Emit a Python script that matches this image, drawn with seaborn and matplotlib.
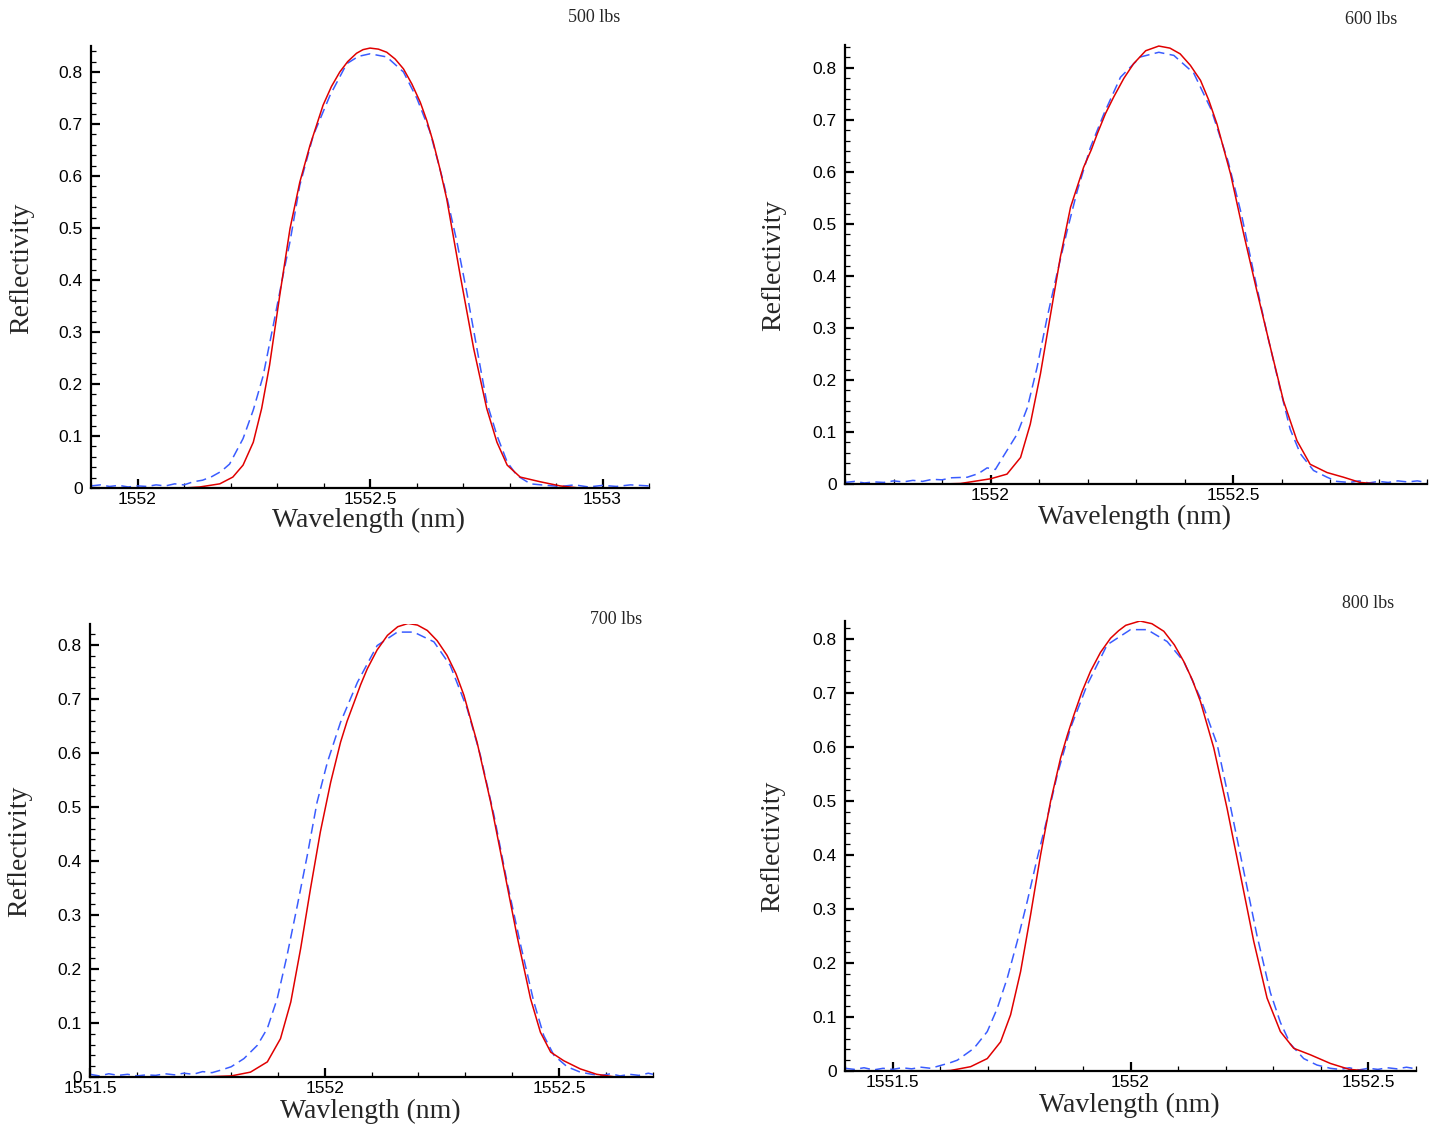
import matplotlib
matplotlib.use("Agg")
import matplotlib.pyplot as plt
from matplotlib.ticker import MultipleLocator, FuncFormatter
import numpy as np
import pandas as pd
import seaborn as sns

# ---------------- data ----------------
loads = ["500 lbs", "600 lbs", "700 lbs", "800 lbs"]
xlabels = ["Wavelength (nm)", "Wavelength (nm)", "Wavlength (nm)", "Wavlength (nm)"]

# 500 lbs
red1_wl = [1551.90, 1552.10, 1552.134, 1552.177, 1552.205, 1552.227, 1552.249, 1552.267, 1552.284,
           1552.306, 1552.328, 1552.349, 1552.371, 1552.399, 1552.417, 1552.435, 1552.452, 1552.471,
           1552.485, 1552.5, 1552.518, 1552.536, 1552.554, 1552.572, 1552.59, 1552.608, 1552.622,
           1552.636, 1552.65, 1552.665, 1552.694, 1552.723, 1552.751, 1552.773,
           1552.795, 1552.823, 1552.866, 1552.909, 1552.95, 1553.10]
red1_R = [0.0, 0.0, 0.002, 0.008, 0.021, 0.044, 0.088, 0.153, 0.236,
          0.371, 0.499, 0.588, 0.659, 0.736, 0.772, 0.800, 0.820, 0.836,
          0.843, 0.846, 0.844, 0.838, 0.825, 0.806, 0.777, 0.742, 0.707,
          0.665, 0.615, 0.556, 0.409, 0.268, 0.153, 0.088,
          0.044, 0.021, 0.012, 0.004, 0.0, 0.0]
blue1_wl = [1551.90, 1551.92, 1551.94, 1551.96, 1551.98, 1552.00, 1552.02, 1552.04, 1552.06, 1552.08,
            1552.10, 1552.12, 1552.14, 1552.16, 1552.18, 1552.198, 1552.227, 1552.249, 1552.27,
            1552.292, 1552.313, 1552.328, 1552.349, 1552.378, 1552.414, 1552.45, 1552.475, 1552.5,
            1552.536, 1552.572, 1552.601, 1552.629, 1552.658, 1552.687, 1552.708, 1552.73, 1552.751,
            1552.773, 1552.795, 1552.816, 1552.845, 1552.88, 1552.91, 1552.94, 1552.97, 1553.00,
            1553.03, 1553.06, 1553.10]
blue1_R = [0.004, 0.006, 0.003, 0.005, 0.002, 0.004, 0.003, 0.006, 0.004, 0.008,
           0.006, 0.012, 0.015, 0.022, 0.032, 0.046, 0.095, 0.150, 0.215,
           0.313, 0.409, 0.474, 0.582, 0.678, 0.755, 0.816, 0.830, 0.835,
           0.829, 0.800, 0.749, 0.685, 0.588, 0.473, 0.377, 0.268, 0.165,
           0.101, 0.050, 0.024, 0.008, 0.005, 0.003, 0.006, 0.002, 0.005,
           0.003, 0.006, 0.004]

# 600 lbs
red2_wl = [1551.70, 1551.90, 1551.938, 1552.0, 1552.034, 1552.062, 1552.082, 1552.103, 1552.124,
           1552.144, 1552.165, 1552.192, 1552.208, 1552.22, 1552.237, 1552.254, 1552.275, 1552.295,
           1552.32, 1552.347, 1552.37, 1552.391, 1552.412, 1552.433, 1552.45, 1552.467, 1552.495,
           1552.522, 1552.549, 1552.577, 1552.604, 1552.632, 1552.659,
           1552.694, 1552.728, 1552.762, 1552.80, 1552.90]
red2_R = [0.0, 0.0, 0.001, 0.010, 0.019, 0.051, 0.115, 0.212, 0.327,
          0.436, 0.532, 0.609, 0.643, 0.673, 0.712, 0.744, 0.780, 0.808,
          0.833, 0.842, 0.838, 0.827, 0.805, 0.776, 0.738, 0.692, 0.596,
          0.481, 0.372, 0.263, 0.160, 0.083, 0.038,
          0.022, 0.013, 0.003, 0.0, 0.0]
blue2_wl = [1551.70, 1551.72, 1551.74, 1551.76, 1551.78, 1551.80, 1551.82, 1551.84, 1551.86, 1551.88,
            1551.90, 1551.92, 1551.952, 1551.975, 1551.993, 1552.01, 1552.027, 1552.055, 1552.076,
            1552.096, 1552.117, 1552.137, 1552.158, 1552.179, 1552.206, 1552.234, 1552.268, 1552.309,
            1552.347, 1552.378, 1552.419, 1552.455, 1552.49, 1552.517, 1552.543, 1552.57, 1552.598,
            1552.618, 1552.639, 1552.666, 1552.694, 1552.714, 1552.74, 1552.76, 1552.78, 1552.80,
            1552.82, 1552.84, 1552.86, 1552.88, 1552.90]
blue2_R = [0.003, 0.005, 0.002, 0.004, 0.003, 0.006, 0.004, 0.007, 0.005, 0.009,
           0.008, 0.012, 0.013, 0.020, 0.031, 0.028, 0.054, 0.096, 0.147,
           0.224, 0.321, 0.404, 0.487, 0.564, 0.647, 0.712, 0.782, 0.821,
           0.830, 0.824, 0.790, 0.720, 0.620, 0.520, 0.405, 0.290, 0.180,
           0.105, 0.058, 0.026, 0.013, 0.005, 0.003, 0.006, 0.002, 0.005,
           0.003, 0.006, 0.004, 0.006, 0.003]

# 700 lbs
red3_wl = [1551.50, 1551.736, 1551.801, 1551.842, 1551.878, 1551.906, 1551.928, 1551.949, 1551.97,
           1551.991, 1552.013, 1552.034, 1552.048, 1552.063, 1552.077, 1552.091, 1552.112, 1552.134,
           1552.156, 1552.178, 1552.198, 1552.219, 1552.24, 1552.261, 1552.28,
           1552.297, 1552.325, 1552.354, 1552.382, 1552.41, 1552.439, 1552.46, 1552.482, 1552.51,
           1552.545, 1552.58, 1552.62, 1552.70]
red3_R = [0.0, 0.0, 0.002, 0.009, 0.028, 0.071, 0.139, 0.238, 0.349,
          0.454, 0.546, 0.620, 0.659, 0.694, 0.727, 0.756, 0.791, 0.818,
          0.834, 0.840, 0.837, 0.827, 0.808, 0.781, 0.747,
          0.707, 0.620, 0.509, 0.386, 0.262, 0.145, 0.083, 0.046, 0.030,
          0.015, 0.005, 0.0, 0.0]
blue3_wl = [1551.50, 1551.52, 1551.54, 1551.56, 1551.58, 1551.60, 1551.62, 1551.64, 1551.66, 1551.68,
            1551.70, 1551.72, 1551.74, 1551.76, 1551.78, 1551.801, 1551.828, 1551.857, 1551.878,
            1551.899, 1551.92, 1551.942, 1551.963, 1551.984, 1552.006, 1552.034, 1552.07, 1552.112,
            1552.155, 1552.19, 1552.233, 1552.268, 1552.304, 1552.332, 1552.361, 1552.389, 1552.418,
            1552.446, 1552.467, 1552.489, 1552.517, 1552.545, 1552.57, 1552.59, 1552.61, 1552.63,
            1552.65, 1552.67, 1552.69, 1552.70]
blue3_R = [0.005, 0.002, 0.006, 0.003, 0.005, 0.002, 0.004, 0.003, 0.006, 0.004,
           0.007, 0.005, 0.010, 0.008, 0.013, 0.019, 0.034, 0.059, 0.090,
           0.145, 0.225, 0.318, 0.410, 0.509, 0.583, 0.657, 0.731, 0.799,
           0.824, 0.824, 0.806, 0.762, 0.682, 0.596, 0.485, 0.361, 0.244,
           0.139, 0.077, 0.040, 0.019, 0.009, 0.005, 0.003, 0.006, 0.002,
           0.005, 0.003, 0.007, 0.005]

# 800 lbs
red4_wl = [1551.40, 1551.60, 1551.622, 1551.664, 1551.699, 1551.727, 1551.748, 1551.769, 1551.79,
           1551.811, 1551.832, 1551.853, 1551.867, 1551.881, 1551.898, 1551.916, 1551.937, 1551.958,
           1551.975, 1551.99, 1552.02, 1552.045, 1552.07, 1552.092,
           1552.112, 1552.13, 1552.147, 1552.175, 1552.203, 1552.231, 1552.259, 1552.287, 1552.315,
           1552.343, 1552.378, 1552.42, 1552.46, 1552.50, 1552.60]
red4_R = [0.0, 0.0, 0.001, 0.008, 0.023, 0.054, 0.104, 0.184, 0.289,
          0.400, 0.499, 0.579, 0.621, 0.659, 0.702, 0.740, 0.775, 0.801,
          0.815, 0.825, 0.833, 0.828, 0.814, 0.789,
          0.758, 0.724, 0.684, 0.598, 0.486, 0.363, 0.240, 0.135, 0.073,
          0.042, 0.030, 0.014, 0.003, 0.0, 0.0]
blue4_wl = [1551.40, 1551.42, 1551.44, 1551.46, 1551.48, 1551.50, 1551.52, 1551.54, 1551.56, 1551.58,
            1551.60, 1551.62, 1551.636, 1551.671, 1551.699, 1551.72, 1551.741, 1551.762, 1551.783,
            1551.804, 1551.825, 1551.846, 1551.874, 1551.909, 1551.951, 1552.0, 1552.035, 1552.077,
            1552.112, 1552.147, 1552.182, 1552.21, 1552.238, 1552.266, 1552.294, 1552.315, 1552.336,
            1552.364, 1552.392, 1552.42, 1552.44, 1552.46, 1552.48, 1552.50, 1552.52, 1552.54,
            1552.56, 1552.58, 1552.60]
blue4_R = [0.005, 0.003, 0.006, 0.002, 0.005, 0.003, 0.006, 0.004, 0.007, 0.005,
           0.010, 0.015, 0.020, 0.042, 0.073, 0.116, 0.172, 0.240, 0.314,
           0.394, 0.468, 0.548, 0.635, 0.715, 0.789, 0.817, 0.817, 0.795,
           0.758, 0.690, 0.605, 0.490, 0.370, 0.250, 0.145, 0.090, 0.050,
           0.023, 0.011, 0.005, 0.003, 0.006, 0.002, 0.005, 0.003, 0.006,
           0.004, 0.007, 0.004]

xlims = [(1551.9, 1553.1), (1551.7, 1552.9), (1551.5, 1552.7), (1551.4, 1552.6)]
ylims = [(0, 0.85), (0, 0.844), (0, 0.839), (0, 0.833)]

reds = [(red1_wl, red1_R), (red2_wl, red2_R), (red3_wl, red3_R), (red4_wl, red4_R)]
blues = [(blue1_wl, blue1_R), (blue2_wl, blue2_R), (blue3_wl, blue3_R), (blue4_wl, blue4_R)]

# ---------------- layout (pixel boxes: left, right, top, bottom) ----------------
W, H = 1441, 1131
boxes = [(91, 649, 46, 488), (845, 1427, 45, 484), (90, 653, 624, 1077), (845, 1416, 621, 1071)]
title_pos = [(594, 17), (1371, 20), (616, 620), (1368, 604)]
xlabel_pos = [(369, 520), (1135, 517), (370, 1111), (1129, 1105)]
ylabel_pos = [(22, 268), (774, 265), (20, 851), (773, 846)]

sns.set_style("ticks")
plt.rcParams['font.family'] = ['Liberation Sans', 'DejaVu Sans']
serif = ['Liberation Serif', 'DejaVu Serif']

fig = plt.figure(figsize=(W / 100, H / 100), dpi=100)
fmt = FuncFormatter(lambda v, p: ("%g" % round(v, 4)))

for i in range(4):
    l, r, t, b = boxes[i]
    ax = fig.add_axes([l / W, 1 - b / H, (r - l) / W, (b - t) / H])
    rdf = pd.DataFrame({"wl": reds[i][0], "R": reds[i][1]})
    bdf = pd.DataFrame({"wl": blues[i][0], "R": blues[i][1]})
    sns.lineplot(data=bdf, x="wl", y="R", ax=ax, color="#3a5cff", lw=1.1,
                 linestyle=(0, (6.5, 3.5)), estimator=None, sort=False)
    sns.lineplot(data=rdf, x="wl", y="R", ax=ax, color="#e00000", lw=1.1,
                 estimator=None, sort=False)
    ax.set_xlim(*xlims[i])
    ax.set_ylim(*ylims[i])
    ax.xaxis.set_major_locator(MultipleLocator(0.5))
    ax.xaxis.set_minor_locator(MultipleLocator(0.1))
    ax.yaxis.set_major_locator(MultipleLocator(0.1))
    ax.yaxis.set_minor_locator(MultipleLocator(0.02))
    ax.xaxis.set_major_formatter(fmt)
    ax.yaxis.set_major_formatter(fmt)
    for s in ["top", "right"]:
        ax.spines[s].set_visible(False)
    for s in ["left", "bottom"]:
        ax.spines[s].set_linewidth(1.6)
        ax.spines[s].set_color("black")
    ax.tick_params(axis="both", which="major", direction="in", length=6.5, width=1.6,
                   labelsize=12.5, colors="black")
    ax.tick_params(axis="both", which="minor", direction="in", length=3.8, width=0.9, colors="black")
    ax.tick_params(axis="x", which="major", pad=3)
    ax.tick_params(axis="y", which="major", pad=6)

    ax.set_xlabel(xlabels[i], fontsize=20, family=serif, va="center")
    ax.set_ylabel("Reflectivity", fontsize=20, family=serif, va="center")
    xl, yl = xlabel_pos[i]
    ax.xaxis.set_label_coords((xl - l) / (r - l), (b - yl) / (b - t))
    xl, yl = ylabel_pos[i]
    ax.yaxis.set_label_coords((xl - l) / (r - l), (b - yl) / (b - t))

    tx, ty = title_pos[i]
    fig.text(tx / W, 1 - ty / H, loads[i], fontsize=13, family=serif, ha="center", va="center")

fig.savefig("out.png", dpi=100, facecolor="white")
